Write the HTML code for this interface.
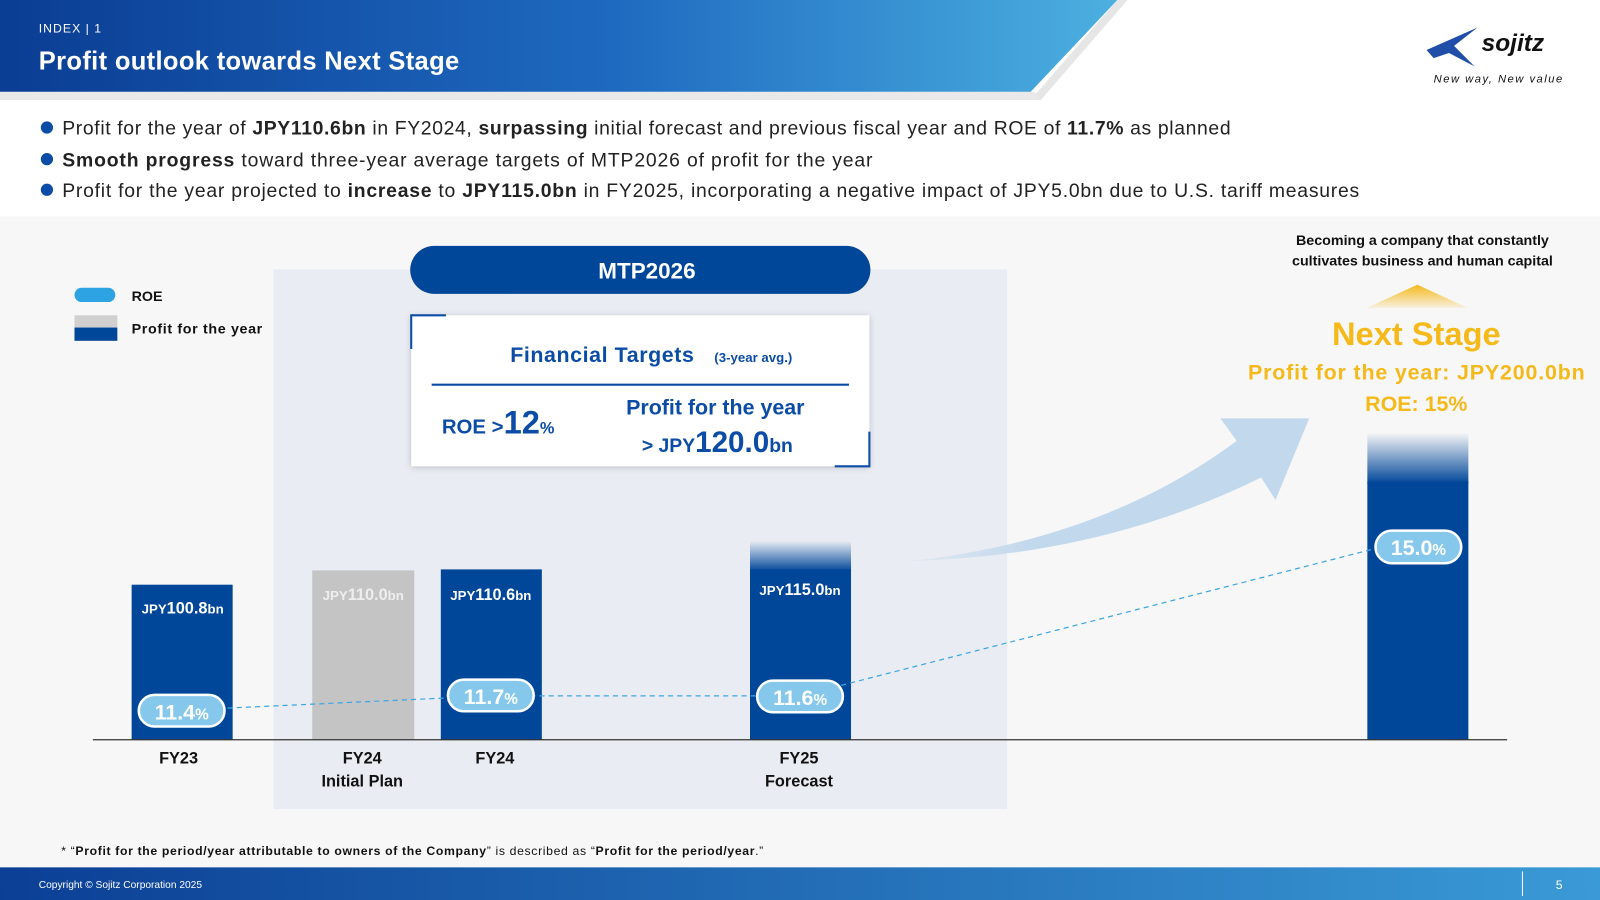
<!DOCTYPE html>
<html><head><meta charset="utf-8"><style>
html,body{margin:0;padding:0;background:#fff}
svg{display:block}
text{font-family:"Liberation Sans",sans-serif}
</style></head><body>
<svg width="1600" height="900" viewBox="0 0 1568 882" xmlns="http://www.w3.org/2000/svg">
<defs>
<linearGradient id="hd" x1="0" x2="1" y1="0" y2="0">
<stop offset="0" stop-color="#0a3d93"/><stop offset="0.55" stop-color="#1e6ac0"/><stop offset="1" stop-color="#4cb0e0"/></linearGradient>
<linearGradient id="ft" x1="0" x2="1"><stop offset="0" stop-color="#0b3f95"/><stop offset="1" stop-color="#3a9ad6"/></linearGradient>
<linearGradient id="fade" x1="0" x2="0" y1="0" y2="1"><stop offset="0" stop-color="#004699" stop-opacity="0"/><stop offset="1" stop-color="#004699"/></linearGradient>
<linearGradient id="gold" x1="0" x2="0" y1="0" y2="1"><stop offset="0" stop-color="#f6b91a"/><stop offset="1" stop-color="#f6b91a" stop-opacity="0.1"/></linearGradient>
<linearGradient id="arr" x1="0" x2="1"><stop offset="0" stop-color="#c2d8ec" stop-opacity="0.2"/><stop offset="0.3" stop-color="#c2d8ec"/></linearGradient>
</defs>
<rect width="1568" height="882" fill="#fff"/>
<polygon points="0,0 1095,0 1010,90 0,90" fill="url(#hd)"/>
<polygon points="1095,0 1105,0 1020,98 1010,98" fill="#e6e6e6"/>
<rect x="0" y="90" width="1015" height="8" fill="#e9e9e9"/>
<text x="38" y="32" font-size="12" fill="#fff" letter-spacing="1">INDEX | 1</text>
<text x="38" y="68" font-size="25" font-weight="bold" fill="#fff" textLength="412">Profit outlook towards Next Stage</text>
<polygon points="1398,49 1448,27 1425,45 1445,65 1420,52 1405,57" fill="#1f4fa8"/>
<text x="1452" y="50" font-size="24" font-weight="bold" font-style="italic" fill="#111">sojitz</text>
<text x="1405" y="81" font-size="11" font-style="italic" fill="#111" textLength="126">New way, New value</text>
<g font-size="19" fill="#222">
<circle cx="46" cy="125" r="6" fill="#0b4ca6"/>
<text x="61" y="132" textLength="1145">Profit for the year of <tspan font-weight="bold">JPY110.6bn</tspan> in FY2024, <tspan font-weight="bold">surpassing</tspan> initial forecast and previous fiscal year and ROE of <tspan font-weight="bold">11.7%</tspan> as planned</text>
<circle cx="46" cy="156" r="6" fill="#0b4ca6"/>
<text x="61" y="163" textLength="794"><tspan font-weight="bold">Smooth progress</tspan> toward three-year average targets of MTP2026 of profit for the year</text>
<circle cx="46" cy="186" r="6" fill="#0b4ca6"/>
<text x="61" y="193" textLength="1271">Profit for the year projected to <tspan font-weight="bold">increase</tspan> to <tspan font-weight="bold">JPY115.0bn</tspan> in FY2025, incorporating a negative impact of JPY5.0bn due to U.S. tariff measures</text>
</g>
<rect x="0" y="212" width="1568" height="638" fill="#f7f7f7"/>
<rect x="268" y="264" width="719" height="529" fill="#e9edf3"/>
<rect x="73" y="282" width="40" height="14" rx="7" fill="#2ea3e3"/>
<text x="129" y="295" font-size="14" font-weight="bold" fill="#111">ROE</text>
<rect x="73" y="309" width="42" height="12" fill="#d0d0d0"/><rect x="73" y="321" width="42" height="13" fill="#004699"/>
<text x="129" y="327" font-size="14" font-weight="bold" fill="#111" textLength="128">Profit for the year</text>
<rect x="402" y="241" width="451" height="47" rx="23.5" fill="#004699"/>
<text x="634" y="273" font-size="22" font-weight="bold" fill="#fff" text-anchor="middle">MTP2026</text>
<rect x="403" y="309" width="449" height="148" fill="#fff" filter="drop-shadow(0 1px 3px rgba(0,0,0,0.2))"/>
<path d="M403,342 V309 H437" stroke="#0b4ca6" stroke-width="2" fill="none"/>
<path d="M852,423 V457 H818" stroke="#0b4ca6" stroke-width="2" fill="none"/>
<text x="500" y="355" font-size="21" font-weight="bold" fill="#0b4ca6" textLength="180">Financial Targets</text>
<text x="700" y="355" font-size="13" font-weight="bold" fill="#0b4ca6">(3-year avg.)</text>
<line x1="423" y1="377" x2="832" y2="377" stroke="#0b4ca6" stroke-width="2"/>
<text x="433" y="425" font-size="20" font-weight="bold" fill="#0b4ca6">ROE &gt;<tspan font-size="32">12</tspan><tspan font-size="16">%</tspan></text>
<text x="701" y="406" font-size="21" font-weight="bold" fill="#0b4ca6" text-anchor="middle">Profit for the year</text>
<text x="703" y="443" font-size="19" font-weight="bold" fill="#0b4ca6" text-anchor="middle">&gt; JPY<tspan font-size="29">120.0</tspan>bn</text>
<path d="M890,550 Q1080,530 1212,432 L1196,410 L1283,410 L1250,490 L1236,468 Q1080,545 890,550 Z" fill="url(#arr)"/>
<text x="1394" y="240" font-size="14" font-weight="bold" fill="#111" text-anchor="middle">Becoming a company that constantly</text>
<text x="1394" y="260" font-size="14" font-weight="bold" fill="#111" text-anchor="middle">cultivates business and human capital</text>
<polygon points="1339,302 1389,279 1439,302" fill="url(#gold)"/>
<text x="1388" y="338" font-size="32" font-weight="bold" fill="#f6b91a" text-anchor="middle">Next Stage</text>
<text x="1388" y="372" font-size="21" font-weight="bold" fill="#f6b91a" text-anchor="middle" textLength="330">Profit for the year: JPY200.0bn</text>
<text x="1388" y="403" font-size="21" font-weight="bold" fill="#f6b91a" text-anchor="middle">ROE: 15%</text>
<rect x="129" y="573" width="99" height="152" fill="#004699"/>
<rect x="306" y="559" width="100" height="166" fill="#c4c4c4"/>
<rect x="432" y="558" width="99" height="167" fill="#004699"/>
<rect x="735" y="530" width="99" height="30" fill="url(#fade)"/><rect x="735" y="558" width="99" height="167" fill="#004699"/>
<rect x="1340" y="424" width="99" height="50" fill="url(#fade)"/><rect x="1340" y="472" width="99" height="253" fill="#004699"/>
<g font-size="16" font-weight="bold" text-anchor="middle">
<text x="179" y="601" fill="#fff"><tspan font-size="13">JPY</tspan>100.8<tspan font-size="13">bn</tspan></text>
<text x="356" y="588" fill="#eee"><tspan font-size="13">JPY</tspan>110.0<tspan font-size="13">bn</tspan></text>
<text x="481" y="588" fill="#fff"><tspan font-size="13">JPY</tspan>110.6<tspan font-size="13">bn</tspan></text>
<text x="784" y="583" fill="#fff"><tspan font-size="13">JPY</tspan>115.0<tspan font-size="13">bn</tspan></text>
</g>
<line x1="91" y1="725" x2="1477" y2="725" stroke="#333" stroke-width="1.2"/>
<polyline points="178,696 481,682 784,682 1350,537" fill="none" stroke="#3ba6e4" stroke-width="1.2" stroke-dasharray="5,4"/>
<g font-size="21" font-weight="bold" fill="#fff" text-anchor="middle">
<rect x="136" y="681" width="84" height="31" rx="15.5" fill="#86c7ec" stroke="#fff" stroke-width="2.5"/><text x="178" y="705">11.4<tspan font-size="15">%</tspan></text>
<rect x="439" y="666" width="84" height="31" rx="15.5" fill="#86c7ec" stroke="#fff" stroke-width="2.5"/><text x="481" y="690">11.7<tspan font-size="15">%</tspan></text>
<rect x="742" y="667" width="84" height="31" rx="15.5" fill="#86c7ec" stroke="#fff" stroke-width="2.5"/><text x="784" y="691">11.6<tspan font-size="15">%</tspan></text>
<rect x="1348" y="520" width="84" height="32" rx="16" fill="#86c7ec" stroke="#fff" stroke-width="2.5"/><text x="1390" y="544">15.0<tspan font-size="15">%</tspan></text>
</g>
<g font-size="16" font-weight="bold" fill="#111" text-anchor="middle">
<text x="175" y="748">FY23</text>
<text x="355" y="748">FY24</text><text x="355" y="771">Initial Plan</text>
<text x="485" y="748">FY24</text>
<text x="783" y="748">FY25</text><text x="783" y="771">Forecast</text>
</g>
<text x="60" y="838" font-size="12" fill="#111" textLength="688">* “<tspan font-weight="bold">Profit for the period/year attributable to owners of the Company</tspan>” is described as “<tspan font-weight="bold">Profit for the period/year</tspan>.”</text>
<rect x="0" y="850" width="1568" height="32" fill="url(#ft)"/>
<text x="38" y="870" font-size="10" fill="#fff">Copyright © Sojitz Corporation 2025</text>
<line x1="1492" y1="854" x2="1492" y2="878" stroke="#fff" stroke-width="1"/>
<text x="1528" y="871" font-size="12" fill="#fff" text-anchor="middle">5</text>
</svg>
</body></html>
